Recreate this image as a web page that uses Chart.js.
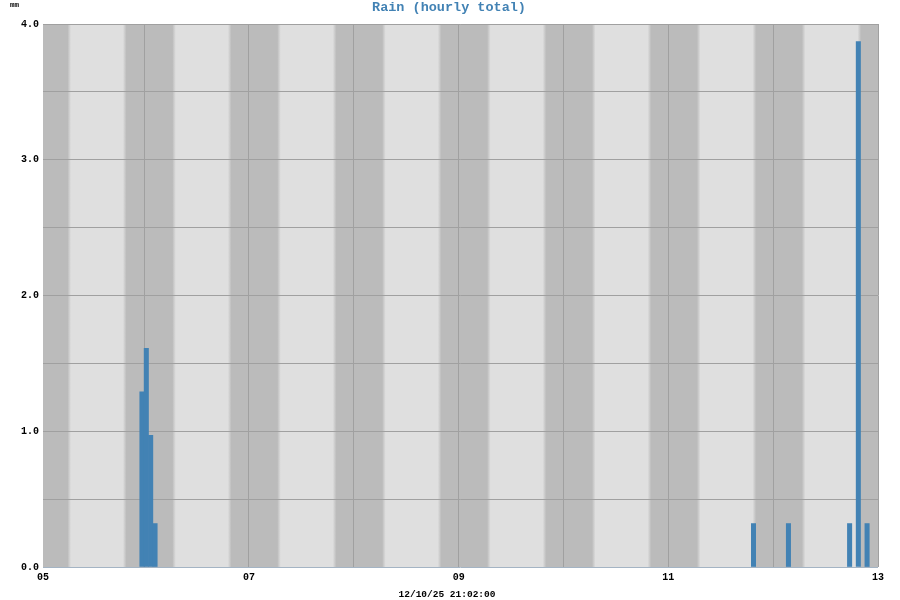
<!DOCTYPE html>
<html><head><meta charset="utf-8">
<script src="https://cdn.jsdelivr.net/npm/chart.js@4/dist/chart.umd.min.js"></script>
<style>html,body{margin:0;padding:0;background:#fff;}</style>
</head><body>
<canvas id="c" width="900" height="600"></canvas>
<script>
// ---- data ----
const chartTitle = 'Rain (hourly total)';
const unitLabel = 'mm';
const footerLabel = '12/10/25 21:02:00';
// x axis in hours after day "05" 00:00
const axisStartHour = 0.85;
const dayLabels = ['05', '06', '07', '08', '09', '10', '11', '12', '13'];
const labelledDays = ['05', '07', '09', '11', '13'];
// hourly rain totals: end of each hour (hours after 05 00:00) and amount in mm
const rainEndHours = [24, 25, 26, 27, 164, 172, 186, 188, 190];
const rainMm = [1.29, 1.61, 0.97, 0.32, 0.32, 0.32, 0.32, 3.87, 0.32];
// y ticks
const yMin = 0, yMax = 4.0, yStep = 0.5;
// approximate daylight band per day (local hour of sunrise / sunset)
const sunriseHours = [6.85, 6.85, 6.85, 6.85, 6.85, 6.85, 6.85, 6.85];
const sunriseShift = [0, 0, 0.02, 0.04, 0.06, 0.08, 0.10, 0.12];
const sunsetHours = [19.55, 19.58, 19.60, 19.63, 19.65, 19.68, 19.70, 19.73];

// ---- styles ----
const FONT = "'Liberation Mono', 'DejaVu Sans Mono', monospace";
const BLUE = '#4282b4';
const DAY_COLOR = '#dfdfdf';
const NIGHT_COLOR = '#bbbbbb';
const GRID = '#a0a0a0';

const dayHours = dayLabels.map((d, i) => i === 0 ? axisStartHour : i * 24);

const dayNight = {
  id: 'dayNight',
  beforeDraw(chart) {
    const {ctx, chartArea: a, scales: {x}} = chart;
    ctx.save();
    ctx.beginPath();
    ctx.rect(a.left, a.top, a.right - a.left, a.bottom - a.top);
    ctx.clip();
    ctx.fillStyle = NIGHT_COLOR;
    ctx.fillRect(a.left, a.top, a.right - a.left, a.bottom - a.top);
    const edge = 0.4;
    sunriseHours.forEach((s0, i) => {
      const sr = s0 + sunriseShift[i];
      const base = i * 24;
      const x0 = x.getPixelForValue(base + sr - edge);
      const x1 = x.getPixelForValue(base + sr + edge);
      const x2 = x.getPixelForValue(base + sunsetHours[i] - edge);
      const x3 = x.getPixelForValue(base + sunsetHours[i] + edge);
      const g = ctx.createLinearGradient(x0, 0, x3, 0);
      g.addColorStop(0, NIGHT_COLOR);
      g.addColorStop((x1 - x0) / (x3 - x0), DAY_COLOR);
      g.addColorStop((x2 - x0) / (x3 - x0), DAY_COLOR);
      g.addColorStop(1, NIGHT_COLOR);
      ctx.fillStyle = g;
      ctx.fillRect(x0, a.top, x3 - x0, a.bottom - a.top);
    });
    ctx.restore();
  }
};

const texts = {
  id: 'texts',
  afterDraw(chart) {
    const ctx = chart.ctx;
    ctx.save();
    ctx.textBaseline = 'middle';
    ctx.fillStyle = BLUE;
    ctx.textAlign = 'center';
    ctx.font = "bold 13.5px " + FONT;
    ctx.fillText(chartTitle, 449, 7.5);
    ctx.fillStyle = '#000';
    ctx.font = "bold 9.5px " + FONT;
    ctx.fillText(footerLabel, 447, 594.5);
    ctx.textAlign = 'left';
    ctx.font = "bold 7.5px " + FONT;
    ctx.fillText(unitLabel, 10, 5.5);
    ctx.restore();
  }
};

new Chart(document.getElementById('c'), {
  type: 'bar',
  data: {
    datasets: [{
      data: rainEndHours.map((h, i) => ({x: h - 0.5, y: rainMm[i]})),
      backgroundColor: BLUE,
      borderWidth: 0,
      barPercentage: 1.0,
      categoryPercentage: 1.0
    }]
  },
  options: {
    responsive: false,
    devicePixelRatio: 1,
    animation: false,
    layout: {padding: {top: 24, right: 22, bottom: 0, left: 0}},
    plugins: {legend: {display: false}, tooltip: {enabled: false}, title: {display: false}},
    scales: {
      x: {
        type: 'linear',
        offset: false,
        min: axisStartHour,
        max: (dayLabels.length - 1) * 24,
        afterBuildTicks: s => { s.ticks = dayHours.map(v => ({value: v})); },
        afterFit: s => { s.height = 33; },
        grid: {
          offset: false,
          drawTicks: false,
          color: c => c.index === 0 ? 'rgba(0,0,0,0)' : GRID,
          lineWidth: 1
        },
        border: {display: false},
        ticks: {
          autoSkip: false,
          maxRotation: 0,
          padding: 4,
          color: '#000',
          font: {family: FONT, size: 10, weight: 'bold'},
          callback: (v, i) => labelledDays.includes(dayLabels[i]) ? dayLabels[i] : ''
        }
      },
      y: {
        min: yMin,
        max: yMax,
        afterFit: s => { s.width = 43; },
        grid: {
          drawTicks: false,
          color: c => c.tick && c.tick.value === 0 ? '#a4b4c4' : GRID,
          lineWidth: 1
        },
        border: {display: false},
        ticks: {
          stepSize: yStep,
          padding: 4,
          color: '#000',
          font: {family: FONT, size: 10, weight: 'bold'},
          callback: v => Number.isInteger(v) ? v.toFixed(1) : ''
        }
      }
    }
  },
  plugins: [dayNight, texts]
});
</script>
</body></html>
